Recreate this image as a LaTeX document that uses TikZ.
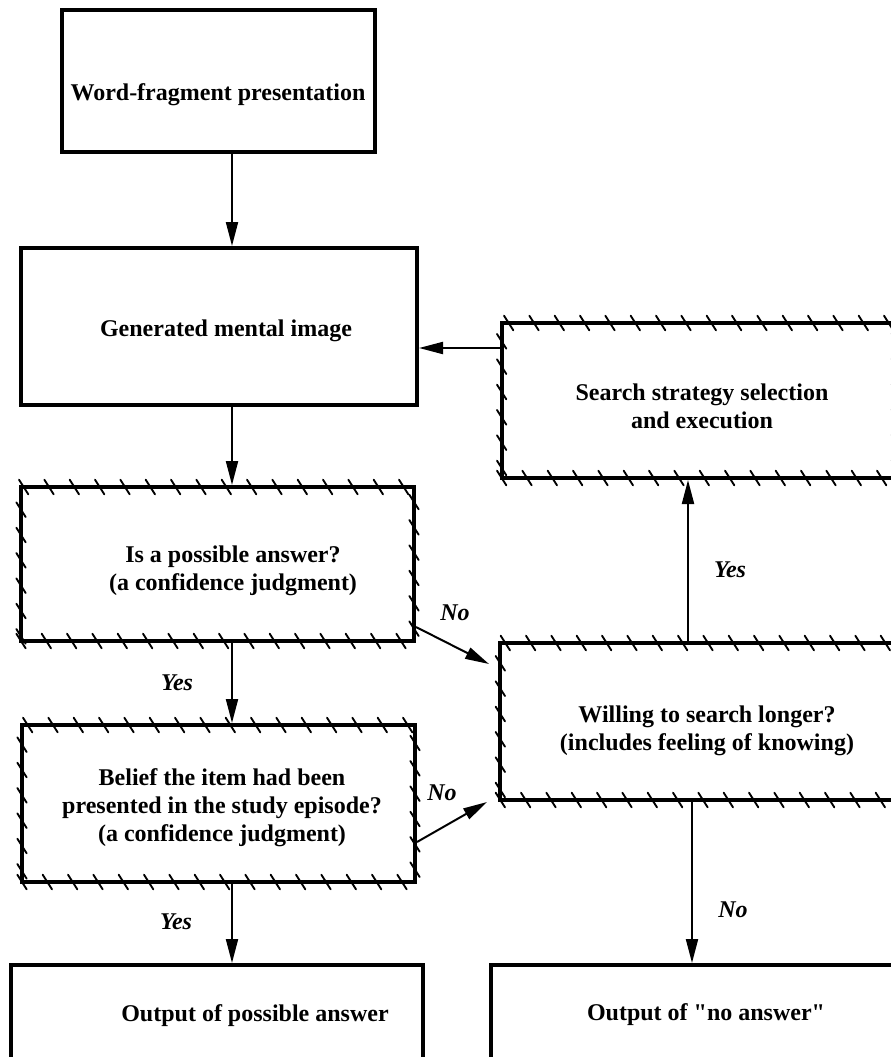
\documentclass[tikz,border=0pt]{standalone}
\usepackage{fontspec}
\setmainfont{Liberation Serif}[Ligatures=TeXOff]
\usetikzlibrary{arrows.meta,decorations.markings}
\begin{document}
\begin{tikzpicture}[x=0.75pt,y=-0.75pt,
  plainbox/.style={draw, line width=3pt, inner sep=0pt},
  hatchbox/.style={draw, line width=3pt, inner sep=0pt,
    postaction={decorate, decoration={markings,
      mark=between positions 0 and 1 step 19pt with {%
        \pgftransformresetnontranslations
        \draw[line width=1.4pt, line cap=round] (-3.5pt,5.5pt) -- (3.5pt,-5.5pt);}}}},
  txt/.style={font=\bfseries\fontsize{18}{21}\selectfont, align=center, inner sep=0pt},
  lbl/.style={font=\bfseries\itshape\fontsize{18}{21}\selectfont, inner sep=0pt},
  arr/.style={line width=1.5pt, -{Triangle[length=18pt,width=9pt]}}
]
\useasboundingbox (0,0) rectangle (890,1057);

% boxes
\node[plainbox, minimum width=234.75pt, minimum height=106.5pt] (b1) at (218.5,81) {};
\node[plainbox, minimum width=297pt, minimum height=117.75pt] (b2) at (219,326.5) {};
\node[hatchbox, minimum width=294.75pt, minimum height=115.5pt] (b3) at (217.5,564) {};
\node[hatchbox, minimum width=294.75pt, minimum height=117.75pt] (b4) at (218.5,803.5) {};
\node[plainbox, minimum width=309pt, minimum height=131.25pt] (b5) at (217,1052.5) {};
\node[hatchbox, minimum width=296pt, minimum height=116.25pt] (sb) at (699,400.5) {};
\node[hatchbox, minimum width=304pt, minimum height=117.75pt] (wb) at (703,721.5) {};
\node[plainbox, minimum width=322.5pt, minimum height=131.25pt] (b6) at (706,1052.5) {};

% texts
\node[txt] (t1) at (218,95) {Word-fragment presentation};
\node[txt] (t2) at (226,331) {Generated mental image};
\node[txt] (t3) at (233,571) {Is a possible answer?\\(a confidence judgment)};
\node[txt] (t4) at (222,808) {Belief the item had been\\presented in the study episode?\\(a confidence judgment)};
\node[txt] (t5) at (255,1016) {Output of possible answer};
\node[txt] (ts) at (702,406) {Search strategy selection\\and execution};
\node[txt] (tw) at (707,731) {Willing to search longer?\\(includes feeling of knowing)};
\node[txt] (t6) at (706,1015) {Output of "no answer"};

% helper coordinates
\coordinate (xl) at (232,0);
\coordinate (xr1) at (688,0);
\coordinate (xr2) at (692,0);
\coordinate (ya) at (0,348);
\coordinate (n1e) at (489,664);
\coordinate (n2e) at (487,802);

% connectors
\draw[arr] (b1.south -| xl) -- (b2.north -| xl);
\draw[arr] (b2.south -| xl) -- (b3.north -| xl);
\draw[arr] (b3.south -| xl) -- (b4.north -| xl);
\draw[arr] (b4.south -| xl) -- (b5.north -| xl);
\draw[arr] (sb.west |- ya) -- (b2.east |- ya);
\draw[arr] (wb.north -| xr1) -- (sb.south -| xr1);
\draw[arr] (wb.south -| xr2) -- (b6.north -| xr2);
\draw[arr] ([yshift=12pt]b3.south east) -- (n1e);
\draw[arr] ([yshift=31.5pt]b4.south east) -- (n2e);

% labels
\node[lbl] (y1) at (177,683) {Yes};
\node[lbl] (y2) at (176,922) {Yes};
\node[lbl] (y3) at (730,570) {Yes};
\node[lbl] (no1) at (455,613) {No};
\node[lbl] (no2) at (442,793) {No};
\node[lbl] (no3) at (733,910) {No};
\end{tikzpicture}
\end{document}
